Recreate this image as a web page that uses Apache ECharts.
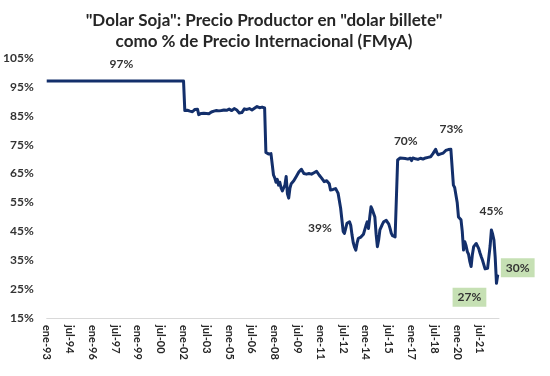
<!DOCTYPE html>
<html>
<head>
<meta charset="utf-8">
<script src="https://cdn.jsdelivr.net/npm/echarts@6/dist/echarts.min.js"></script>
<style>
  html, body { margin: 0; padding: 0; background: #fff; }
  #chart { width: 550px; height: 376px; }
</style>
</head>
<body>
<div id="chart"></div>
<script>
// meses en castellano para las etiquetas del eje
var meses = ['ene', 'feb', 'mar', 'abr', 'may', 'jun', 'jul', 'ago', 'sep', 'oct', 'nov', 'dic'];

// precio productor en dolar billete como % del precio internacional, mensual desde ene-93
var valores1993a2001 = [
    97, 97, 97, 97, 97, 97, 97, 97, 97, 97, 97, 97,
    97, 97, 97, 97, 97, 97, 97, 97, 97, 97, 97, 97,
    97, 97, 97, 97, 97, 97, 97, 97, 97, 97, 97, 97,
    97, 97, 97, 97, 97, 97, 97, 97, 97, 97, 97, 97,
    97, 97, 97, 97, 97, 97, 97, 97, 97, 97, 97, 97,
    97, 97, 97, 97, 97, 97, 97, 97, 97, 97, 97, 97,
    97, 97, 97, 97, 97, 97, 97, 97, 97, 97, 97, 97,
    97, 97, 97, 97, 97, 97, 97, 97, 97, 97, 97, 97,
    97, 97, 97, 97, 97, 97, 97, 97, 97, 97, 97, 97,
    97
];
var valores2002a2007 = [
    86.8, 86.5, 86.9, 87.0, 86.6, 86.8, 86.4, 86.7, 87.2, 86.9,
    87.3, 85.4,
    86.0, 85.8, 85.6, 85.9, 85.7, 85.8, 86.0, 85.7, 86.1, 86.3, 86.4,
    86.6, 86.2, 86.8, 86.5, 86.7, 87.0, 86.8, 86.9,
    87.0, 87.2, 86.9, 87.1, 87.3, 87.0, 86.8, 87.2,
    87.5, 87.6, 87.0, 86.4, 86.0, 86.3, 86.1, 86.6,
    87.4, 88.0, 87.2, 87.0, 87.5, 87.8, 87.0, 87.3, 87.6,
    87.2, 88.2, 88.7, 87.8, 87.6, 88.0, 87.4, 87.7,
    72.3, 72.0, 71.8, 72.1, 71.9, 71.6
];
var valores2007a2015 = [
    64.5, 63.5, 62.0, 63.0, 61.0, 62.0, 60.0, 59.0, 60.0, 61.0,
    64.0, 58.0, 56.5, 60.0, 61.5, 62.0, 62.5, 63.0, 64.0, 64.5,
    65.5, 66.0, 66.5, 66.0, 65.0, 65.0, 64.8, 64.8, 65.0, 64.5,
    64.8, 65.0, 65.3, 65.6, 65.8, 65.2, 64.5, 64.0, 63.4, 63.0,
    62.2, 61.8, 62.5, 62.8, 61.5, 59.3, 59.0, 59.5, 60.0, 59.8,
    59.0, 58.2, 58.0, 53.0, 49.0, 45.0, 44.3, 46.0, 47.8, 48.0,
    48.3, 47.0, 43.7, 41.0, 39.5, 38.5, 41.0, 42.6, 42.8, 43.0,
    43.1, 44.0, 45.5, 47.0, 48.3, 46.0, 50.0, 53.5, 52.5, 53.0,
    50.0, 44.0, 39.7, 42.0, 45.5, 46.0, 47.5, 48.3, 48.5, 48.8,
    48.9, 47.5, 46.0, 44.3, 43.5, 43.2, 43.1, 43.0
];
var valores2016a2022 = [
    69.7, 70.2, 70.4, 70.1, 70.3, 70.0, 70.2, 70.1, 70.0, 69.9,
    70.3, 69.5, 70.4, 70.0, 70.1, 70.2, 69.9, 70.0, 70.3, 70.1,
    70.0, 70.2, 70.4, 70.3, 70.6, 70.5, 70.8, 71.2, 72.0,
    72.4, 73.4, 72.2, 71.5, 71.6, 71.8, 72.0, 72.1, 72.6, 73.0,
    73.3, 73.3, 73.2, 73.4, 73.2,
    61.0, 60.2, 59.9, 55.0, 50.0, 49.5, 49.0, 45.0, 38.5, 41.4,
    40.0, 38.0, 37.0, 34.5, 32.8, 37.0, 39.7, 40.2, 40.8, 40.9,
    39.0, 37.5, 36.2, 35.0, 33.5, 32.0, 31.6, 32.2, 32.8, 40.0,
    45.5, 44.0, 42.0, 36.0, 27.0, 30.0
];

// puntos con etiqueta (indice del mes y texto)
var etiquetaIdx = [59, 244, 285, 317, 351, 355, 356];
var etiquetaTxt = ['97%', '39%', '70%', '73%', '45%', '27%', '30%'];

var titulo = '"Dolar Soja": Precio Productor en "dolar billete"\ncomo % de Precio Internacional (FMyA)';

var valores = valores1993a2001.concat(valores2002a2007, valores2007a2015, valores2016a2022);

// categorias mensuales ene-93 ... oct-22 (una mas que los datos)
var categorias = [];
for (var i = 0; i < valores.length + 1; i++) {
    var anio = (93 + Math.floor(i / 12)) % 100;
    categorias.push(meses[i % 12] + '-' + (anio < 10 ? '0' + anio : '' + anio));
}

(function () {
    var myChart = echarts.init(document.getElementById('chart'));

    var desplazamientos = [[0, -17], [-36, -22], [-2, -18], [3, -20], [0, -19], [-27, 14], [20, -7]];
    var recuadro = [false, false, false, false, false, true, true];

    var serieData = valores.map(function (v, i) {
        var k = etiquetaIdx.indexOf(i);
        if (k < 0) return v;
        var lbl = {
            show: true,
            position: 'inside',
            formatter: etiquetaTxt[k],
            offset: desplazamientos[k],
            color: '#333333',
            fontFamily: 'Lato',
            fontWeight: 'bold',
            fontSize: 12
        };
        if (recuadro[k]) {
            lbl.backgroundColor = '#c6e0b4';
            lbl.padding = [4, 5, 3, 5];
        }
        return {
            value: v,
            symbol: 'circle',
            symbolSize: 1,
            label: lbl
        };
    });

    var option = {
        animation: false,
        title: {
            text: titulo,
            left: 259,
            top: 5,
            textAlign: 'center',
            textStyle: {
                fontFamily: 'Lato',
                fontWeight: 'bold',
                fontSize: 17,
                lineHeight: 21,
                color: '#262626'
            }
        },
        grid: {
            left: 45,
            right: 51,
            top: 58,
            bottom: 58
        },
        xAxis: {
            type: 'category',
            data: categorias,
            boundaryGap: false,
            axisLine: { lineStyle: { color: '#d9d9d9', width: 1 } },
            axisTick: { show: false },
            axisLabel: {
                interval: 17,
                rotate: -90,
                margin: 7,
                color: '#262626',
                fontFamily: 'Lato',
                fontWeight: 'bold',
                fontSize: 11
            },
            splitLine: { show: false }
        },
        yAxis: {
            type: 'value',
            min: 15,
            max: 105,
            interval: 10,
            axisLine: { show: false },
            axisTick: { show: false },
            splitLine: { show: false },
            axisLabel: {
                formatter: '{value}%',
                margin: 13,
                color: '#333333',
                fontFamily: 'Lato',
                fontWeight: 'bold',
                fontSize: 12
            }
        },
        series: [
            {
                type: 'line',
                data: serieData,
                symbol: 'none',
                showSymbol: true,
                showAllSymbol: true,
                itemStyle: { color: '#132f6b' },
                lineStyle: { color: '#132f6b', width: 3, join: 'round' },
                silent: true
            }
        ]
    };

    myChart.setOption(option);
})();
</script>
</body>
</html>
